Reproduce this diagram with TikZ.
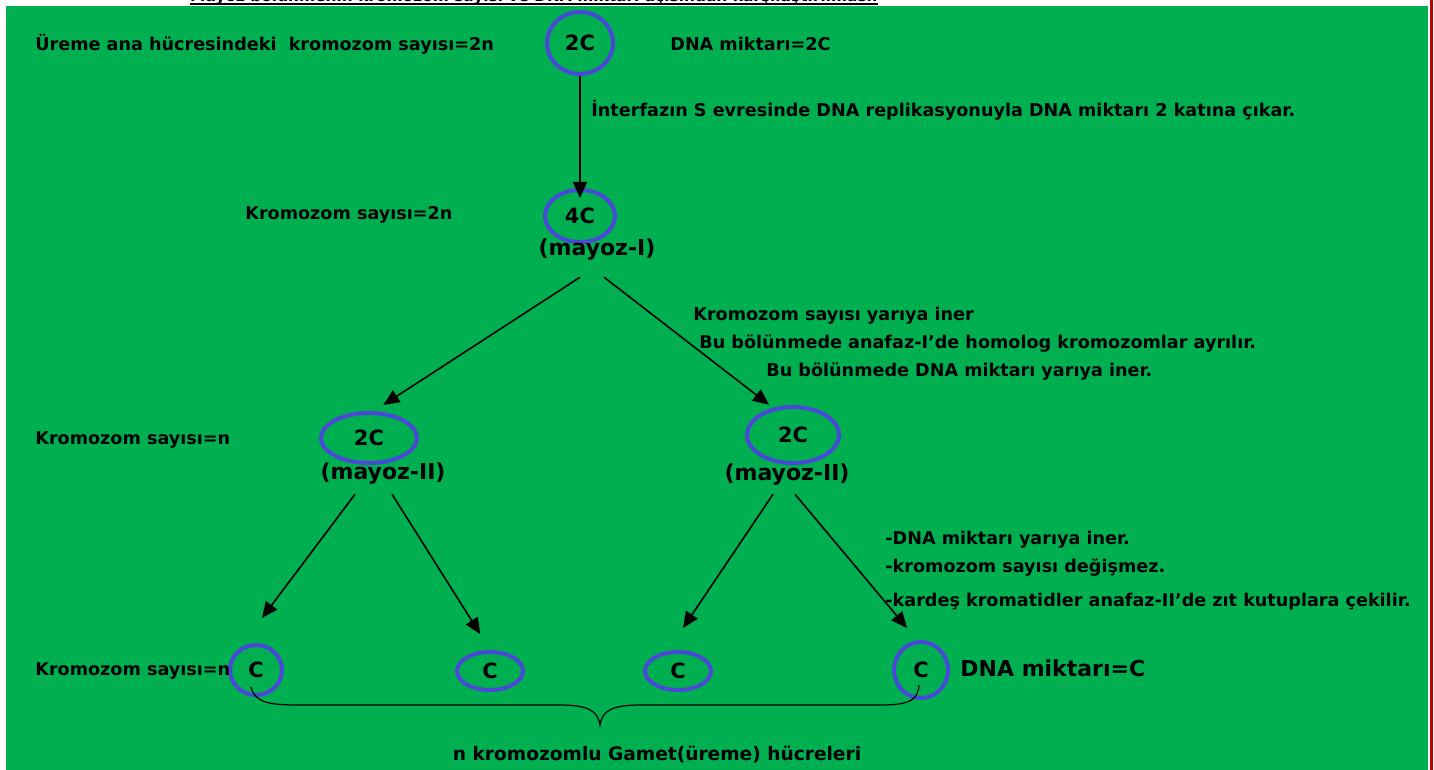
\documentclass[tikz,border=0pt]{standalone}
\usepackage{fontspec}
\setmainfont{DejaVu Sans}
\usetikzlibrary{arrows.meta, positioning, calc, shapes.geometric}
\definecolor{SlideGreen}{RGB}{0,176,80}
\definecolor{RingBlue}{RGB}{74,72,214}
\definecolor{EdgeRed}{RGB}{192,0,0}

\begin{document}
\begin{tikzpicture}[
    x=0.5pt, y=-0.5pt,
    font=\bfseries\fontsize{8.8}{10}\selectfont,
    flow/.style={-{Triangle[length=8pt, width=7pt]}, line width=0.8pt, black},
    cell/.style={ellipse, draw=RingBlue, line width=2pt, inner sep=0pt,
        font=\bfseries\fontsize{10.5}{12}\selectfont},
    phase/.style={inner sep=0pt, font=\bfseries\fontsize{11}{12}\selectfont},
    note/.style={anchor=west, inner sep=0pt, text height=6.4pt, text depth=0pt},
]
\useasboundingbox (0,0) rectangle (1434,770);

% --- zemin ---
\fill[SlideGreen] (6,6) rectangle (1428,770);
\draw[EdgeRed, line width=1.5pt] (1431,0) -- (1431,770);

% --- baslik (ustten kesik) ---
\begin{scope}
\clip (0,0) rectangle (1434,6);
\node[anchor=base, inner sep=0pt, font=\bfseries\fontsize{7.7}{8}\selectfont] (title) at (534,1.5)
    {Mayoz bölünmenin kromozom sayısı ve DNA miktarı açısından karşılaştırılması.};
\draw[line width=1pt] ([yshift=-1.3pt]title.base west) -- ([yshift=-1.3pt]title.base east);
\end{scope}

% --- ana hucre ---
\node[cell, minimum width=33pt, minimum height=31pt] (mother) at (580,43) {2C};
\node[note] (motherN) at (35,44) {Üreme ana hücresindeki~ kromozom sayısı=2n};
\node[note] (motherDNA) at (670,44) {DNA miktarı=2C};

% --- mayoz-I ---
\node[cell, minimum width=35pt, minimum height=26pt] (mI) at (580,216) {4C};
\node[phase, below=-3pt of mI, xshift=8.5pt] (mIlbl) {(mayoz-I)};
\node[note] (mIN) at (245,213) {Kromozom sayısı=2n};

\draw[flow] (mother) -- ([yshift=-5pt]mI.north);
\node[note] (interfaz) at (591,110)
    {İnterfazın S evresinde DNA replikasyonuyla DNA miktarı 2 katına çıkar.};

% --- mayoz-II ---
\node[cell, minimum width=48pt, minimum height=25pt] (mA) at (369,438) {2C};
\node[phase, below=-1.5pt of mA, xshift=7pt] (mAlbl) {(mayoz-II)};
\node[cell, minimum width=46pt, minimum height=28pt] (mB) at (793,435) {2C};
\node[phase, below=-1pt of mB, xshift=-3pt] (mBlbl) {(mayoz-II)};
\node[note] (mAN) at (35,438) {Kromozom sayısı=n};

\draw[flow] ($(mIlbl.south)+(-17,17)$) -- ($(mA.north east)+(-21,-14)$);
\draw[flow] ($(mIlbl.south)+(7,17)$) -- ($(mB.north west)+(10,-9)$);

\node[note] (r1) at (693,314) {Kromozom sayısı yarıya iner};
\node[note] (r2) at (699,342) {Bu bölünmede anafaz-I’de homolog kromozomlar ayrılır.};
\node[note] (r3) at (766,370) {Bu bölünmede DNA miktarı yarıya iner.};

% --- gametler ---
\node[cell, minimum width=26pt, minimum height=25pt] (g1) at (256,670) {C};
\node[cell, minimum width=33pt, minimum height=19pt] (g2) at (490,671) {C};
\node[cell, minimum width=33pt, minimum height=19pt] (g3) at (678,671) {C};
\node[cell, minimum width=27pt, minimum height=28pt] (g4) at (921,670) {C};
\node[note] (gN) at (35,669) {Kromozom sayısı=n};
\node[note, font=\bfseries\fontsize{11}{12}\selectfont, text height=8pt] (gDNA) at (960,668) {DNA miktarı=C};

\draw[flow] ($(mAlbl.south)+(-28,10)$) -- ($(g1.north)+(6,-25)$);
\draw[flow] ($(mAlbl.south)+(9,10)$) -- ($(g2.north west)+(15,-22)$);
\draw[flow] ($(mBlbl.south)+(-14,9)$) -- ($(g3.north)+(5,-22)$);
\draw[flow] ($(mBlbl.south)+(8,9)$) -- ($(g4.north)+(-14,-12)$);

\node[note] (s1) at (885,538) {-DNA miktarı yarıya iner.};
\node[note] (s2) at (885,566) {-kromozom sayısı değişmez.};
\node[note] (s3) at (885,600) {-kardeş kromatidler anafaz-II’de zıt kutuplara çekilir.};

% suslu parantez
\draw[line width=0.6pt] (251,687) .. controls (255,703) and (270,705) .. (300,705)
    -- (560,705) .. controls (590,705) and (598,712) .. (600,725)
    .. controls (602,712) and (610,705) .. (640,705)
    -- (880,705) .. controls (910,705) and (918,700) .. (919,685);
\node[inner sep=0pt, font=\bfseries\fontsize{9.3}{10}\selectfont] (gamet) at (657,755)
    {n kromozomlu Gamet(üreme) hücreleri};

\end{tikzpicture}
\end{document}
